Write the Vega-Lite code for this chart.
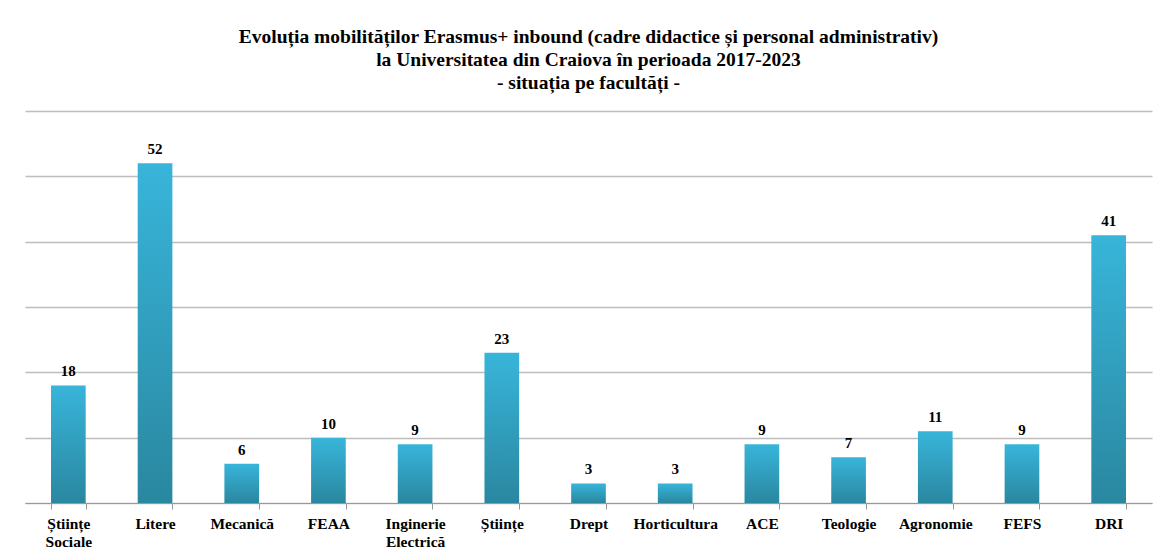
{
  "$schema": "https://vega.github.io/schema/vega-lite/v6.json",
  "width": 1127,
  "height": 392,
  "autosize": {"type": "none"},
  "padding": {"left": 25, "top": 111, "right": 1, "bottom": 49},
  "background": "white",
  "title": {
    "text": ["Evoluția mobilităților Erasmus+ inbound (cadre didactice și personal administrativ)", "la Universitatea din Craiova în perioada 2017-2023", "- situația pe facultăți -"],
    "font": "Liberation Serif",
    "fontSize": 19.5,
    "fontWeight": "bold",
    "color": "#000000",
    "lineHeight": 23,
    "anchor": "middle",
    "offset": 18
  },
  "data": {
    "values": [
      {"facultate": "Științe Sociale", "mobilitati": 18},
      {"facultate": "Litere", "mobilitati": 52},
      {"facultate": "Mecanică", "mobilitati": 6},
      {"facultate": "FEAA", "mobilitati": 10},
      {"facultate": "Inginerie Electrică", "mobilitati": 9},
      {"facultate": "Științe", "mobilitati": 23},
      {"facultate": "Drept", "mobilitati": 3},
      {"facultate": "Horticultura", "mobilitati": 3},
      {"facultate": "ACE", "mobilitati": 9},
      {"facultate": "Teologie", "mobilitati": 7},
      {"facultate": "Agronomie", "mobilitati": 11},
      {"facultate": "FEFS", "mobilitati": 9},
      {"facultate": "DRI", "mobilitati": 41}
    ]
  },
  "encoding": {
    "x": {
      "field": "facultate",
      "type": "nominal",
      "sort": null,
      "scale": {"paddingInner": 0.6, "paddingOuter": 0.3},
      "axis": {
        "title": null,
        "labelAngle": 0,
        "labelFont": "Liberation Serif",
        "labelFontSize": 15.5,
        "labelFontWeight": "bold",
        "labelColor": "#000000",
        "labelPadding": 7,
        "labelLineHeight": 18,
        "labelExpr": "isValid(datum.value) ? split(datum.value, ' ') : ''",
        "domainColor": "#999999",
        "tickColor": "#999999",
        "tickSize": 6,
        "tickBand": "extent",
        "grid": false
      }
    },
    "y": {
      "field": "mobilitati",
      "type": "quantitative",
      "scale": {"domain": [0, 60]},
      "axis": {
        "title": null,
        "values": [0, 10, 20, 30, 40, 50, 60],
        "labels": false,
        "ticks": false,
        "domain": false,
        "grid": true,
        "gridColor": "#bdbdbd",
        "gridWidth": 1.3
      }
    }
  },
  "layer": [
    {
      "mark": {
        "type": "bar",
        "color": {
          "gradient": "linear",
          "x1": 0, "y1": 0, "x2": 0, "y2": 1,
          "stops": [
            {"offset": 0, "color": "#38b5da"},
            {"offset": 1, "color": "#2a87a0"}
          ]
        }
      }
    },
    {
      "mark": {
        "type": "text",
        "baseline": "bottom",
        "dy": -6,
        "font": "Liberation Serif",
        "fontSize": 15,
        "fontWeight": "bold",
        "color": "#000000"
      },
      "encoding": {"text": {"field": "mobilitati", "type": "quantitative"}}
    }
  ],
  "config": {"view": {"stroke": null}}
}
